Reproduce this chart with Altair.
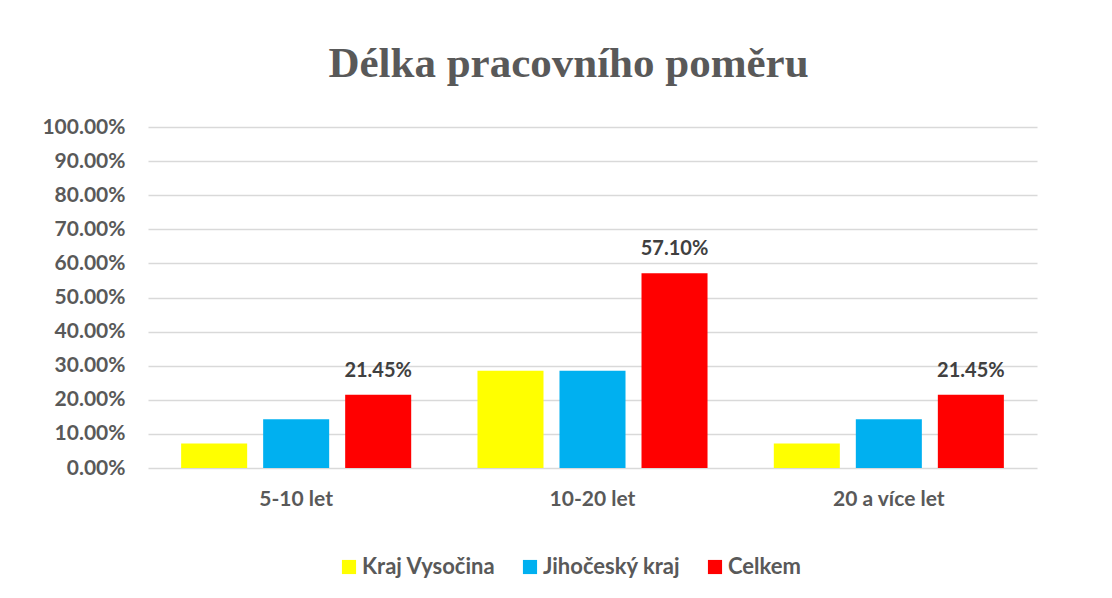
import altair as alt
import pandas as pd

categories = ["5-10 let", "10-20 let", "20 a více let"]
series = ["Kraj Vysočina", "Jihočeský kraj", "Celkem"]
kraj_vysocina = [0.0715, 0.2855, 0.0715]
jihocesky_kraj = [0.143, 0.2855, 0.143]
celkem = [0.2145, 0.5710, 0.2145]
colors = ["#FFFF00", "#00B0F0", "#FF0000"]
y_ticks = [0.0, 0.1, 0.2, 0.3, 0.4, 0.5, 0.6, 0.7, 0.8, 0.9, 1.0]

rows = []
for s, vals in zip(series, [kraj_vysocina, jihocesky_kraj, celkem]):
    for c, v in zip(categories, vals):
        rows.append({"kategorie": c, "serie": s, "hodnota": v})
df = pd.DataFrame(rows)

FONT = "Lato"
GRAY = "#595959"

x = alt.X("kategorie:N", sort=categories, title=None,
          scale=alt.Scale(paddingInner=0, paddingOuter=0),
          axis=alt.Axis(labelAngle=0, labelFont=FONT, labelFontSize=21,
                        labelFontWeight="bold", labelColor=GRAY, ticks=False,
                        domain=False, labelPadding=20))
xo = alt.XOffset("serie:N", sort=series,
                 scale=alt.Scale(paddingInner=0.195, paddingOuter=0.404))
y = alt.Y("hodnota:Q", title=None,
          scale=alt.Scale(domain=[0, 1], nice=False),
          axis=alt.Axis(format=".2%", values=y_ticks,
                        labelFont=FONT, labelFontSize=21, labelFontWeight="bold",
                        labelColor=GRAY, ticks=False, domain=False,
                        labelOverlap=False,
                        labelPadding=23, gridColor="#D9D9D9", gridWidth=1.5))

bars = alt.Chart(df).mark_bar().encode(
    x=x, xOffset=xo, y=y,
    color=alt.Color("serie:N", sort=series,
                    scale=alt.Scale(domain=series, range=colors),
                    legend=alt.Legend(title=None, orient="none", direction="horizontal",
                                      legendX=190, legendY=429,
                                      symbolType="square", symbolSize=200,
                                      symbolStrokeWidth=0,
                                      labelFont=FONT, labelFontSize=22,
                                      labelFontWeight="bold", labelColor=GRAY,
                                      columnPadding=23, labelOffset=2,
                                      labelLimit=300)),
)

labels = alt.Chart(df).transform_filter(alt.datum.serie == "Celkem").mark_text(
    baseline="bottom", dy=-14, font=FONT, fontSize=20, fontWeight="bold",
    color="#404040"
).encode(
    x=x, xOffset=xo, y=y,
    text=alt.Text("hodnota:Q", format=".2%"),
)

chart = alt.layer(bars, labels).properties(
    width=889, height=341,
    padding={"left": 33, "top": 35, "right": 5, "bottom": 5},
    title=alt.TitleParams("Délka pracovního poměru", font="Liberation Serif",
                          fontSize=43, fontWeight="bold", color=GRAY,
                          anchor="middle", dx=-24, offset=30),
).configure_view(stroke=None).configure_axisY(labelOverlap=False)

chart.save("out.html", embed_options={"renderer": "svg", "actions": False})
